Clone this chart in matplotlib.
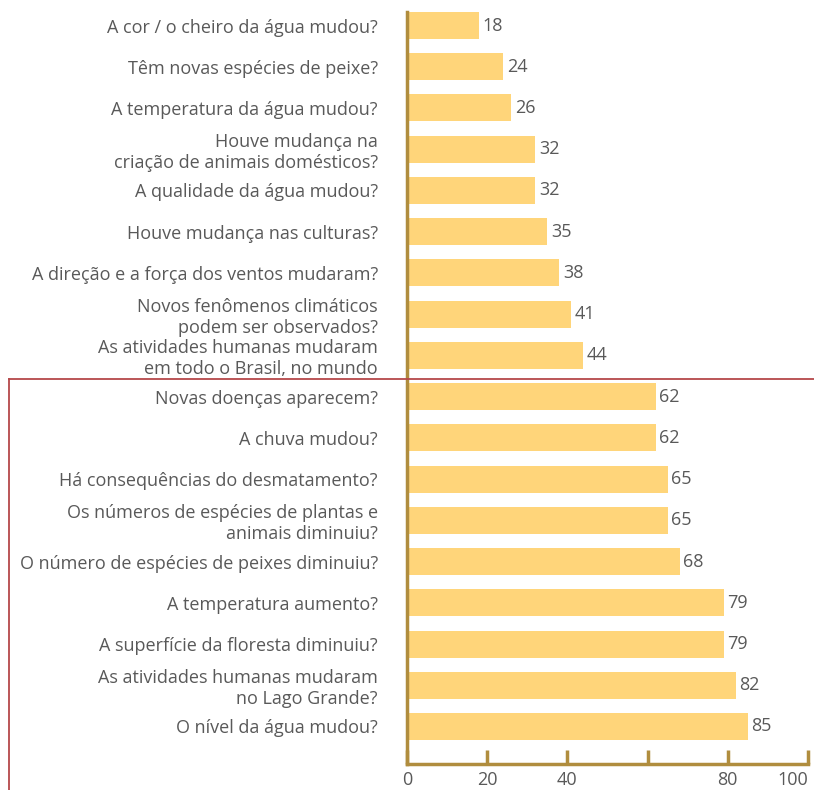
import matplotlib
matplotlib.use("Agg")
import matplotlib.pyplot as plt
from matplotlib.lines import Line2D

categories = [
    "A cor / o cheiro da água mudou?",
    "Têm novas espécies de peixe?",
    "A temperatura da água mudou?",
    "Houve mudança na\ncriação de animais domésticos?",
    "A qualidade da água mudou?",
    "Houve mudança nas culturas?",
    "A direção e a força dos ventos mudaram?",
    "Novos fenômenos climáticos\npodem ser observados?",
    "As atividades humanas mudaram\nem todo o Brasil, no mundo",
    "Novas doenças aparecem?",
    "A chuva mudou?",
    "Há consequências do desmatamento?",
    "Os números de espécies de plantas e\nanimais diminuiu?",
    "O número de espécies de peixes diminuiu?",
    "A temperatura aumento?",
    "A superfície da floresta diminuiu?",
    "As atividades humanas mudaram\nno Lago Grande?",
    "O nível da água mudou?",
]
values = [18, 24, 26, 32, 32, 35, 38, 41, 44, 62, 62, 65, 65, 68, 79, 79, 82, 85]
tick_values = [0, 20, 40, 60, 80, 100]
tick_labels = ["0", "20", "40", "", "80", "100"]

BAR = "#FFD57A"
AXIS = "#B08D3E"
TEXT = "#595959"
RED = "#B5484A"
FS = 13

plt.rcParams["font.family"] = ["Open Sans", "DejaVu Sans"]

W, H = 814, 790
fig = plt.figure(figsize=(W / 100, H / 100), dpi=100)
ax = fig.add_axes([407 / W, 1 - 764 / H, (808 - 407) / W, (764 - 12) / H])

pos = list(range(len(categories)))
bar_h = 0.655
ax.barh(pos, values, height=bar_h, color=BAR, edgecolor="none", zorder=2)
for p, v in zip(pos, values):
    ax.text(v + 0.9, p, str(v), va="center", ha="left", fontsize=FS, color=TEXT)

ax.set_xlim(0, 100)
ax.set_ylim(17.91, -bar_h / 2)
ax.set_yticks(pos)
ax.set_yticklabels(categories, fontsize=FS, color=TEXT, linespacing=1.17)
ax.tick_params(axis="y", length=0, pad=21)
ax.set_xticks(tick_values)
ax.set_xticklabels(tick_labels, fontsize=FS, color=TEXT)
ax.get_xticklabels()[-1].set_ha("right")
ax.tick_params(axis="x", direction="in", length=10, width=2.5, color=AXIS, pad=5)

for side in ["top", "right"]:
    ax.spines[side].set_visible(False)
for side in ["left", "bottom"]:
    ax.spines[side].set_color(AXIS)
    ax.spines[side].set_linewidth(2.5)

# Bracket separating the two groups of questions
yl = 1 - 379 / H
xl = 9 / W
fig.add_artist(Line2D([xl, 1.0], [yl, yl], transform=fig.transFigure,
                      color=RED, lw=1.3, zorder=5))
fig.add_artist(Line2D([xl, xl], [0, yl], transform=fig.transFigure,
                      color=RED, lw=1.3, zorder=5))

fig.savefig("out.png", dpi=100)
